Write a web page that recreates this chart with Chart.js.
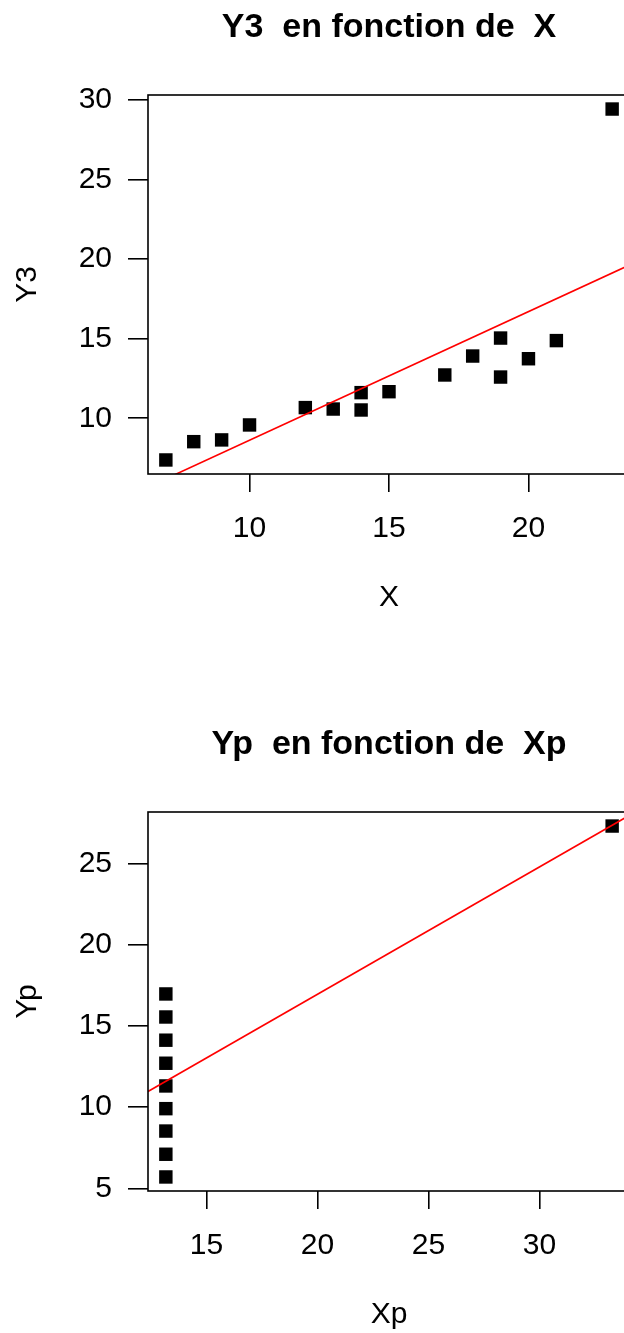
<!DOCTYPE html>
<html lang="fr">
<head>
<meta charset="utf-8">
<title>Y3 en fonction de X — Yp en fonction de Xp</title>
<script src="https://cdn.jsdelivr.net/npm/chart.js@4.4.1/dist/chart.umd.min.js"></script>
<style>
  html, body { margin: 0; padding: 0; background: #fff; overflow: hidden; }
  #page { position: relative; width: 624px; height: 1333px; overflow: hidden; background: #fff; }
  #chartTop { position: absolute; left: 0; top: 0; }
  #chartBottom { position: absolute; left: 0; top: 717px; }
</style>
</head>
<body>
<div id="page">
  <canvas id="chartTop" width="660" height="666"></canvas>
  <canvas id="chartBottom" width="660" height="666"></canvas>
</div>
<script>
// ---- Panel 1 : Y3 en fonction de X ----
const xTop = [7, 8, 9, 10, 12, 13, 14, 14, 15, 17, 18, 19, 19, 20, 21, 23];
const y3Top = [7.38, 8.53, 8.64, 9.58, 10.67, 10.58, 11.61, 10.52, 11.67, 12.72, 13.91, 15.04, 12.59, 13.74, 14.88, 29.43];
const fitTop = { intercept: 0.54, slope: 0.808 };
const xTicksTop = [10, 15, 20];
const yTicksTop = [10, 15, 20, 25, 30];

// ---- Panel 2 : Yp en fonction de Xp ----
const xpBottom = [13.17, 13.17, 13.17, 13.17, 13.17, 13.17, 13.17, 13.17, 13.17, 33.27];
const ypBottom = [5.70, 7.10, 8.53, 9.91, 11.31, 12.71, 14.13, 15.56, 16.98, 27.33];
const fitBottom = { intercept: 1.26, slope: 0.785 };
const xTicksBottom = [15, 20, 25, 30];
const yTicksBottom = [5, 10, 15, 20, 25];

const FONT = "'Liberation Sans', Arial, Helvetica, sans-serif";

// Axis limits: data range widened by 4% on each side
function axisRange(values) {
  const lo = Math.min(...values), hi = Math.max(...values);
  const d = (hi - lo) * 0.04;
  return [lo - d, hi + d];
}

// Box around the plotting region
const framePlugin = {
  id: 'frame',
  afterDatasetsDraw(chart) {
    const { ctx, chartArea: a } = chart;
    ctx.save();
    ctx.strokeStyle = '#000';
    ctx.lineWidth = 1.6;
    ctx.strokeRect(a.left, a.top, a.right - a.left, a.bottom - a.top);
    ctx.restore();
  }
};

function makeScatter(canvasId, cfg) {
  const [xmin, xmax] = axisRange(cfg.x);
  const [ymin, ymax] = axisRange(cfg.y);
  const points = cfg.x.map((v, i) => ({ x: v, y: cfg.y[i] }));
  const fitLine = [xmin, xmax].map(v => ({ x: v, y: cfg.fit.intercept + cfg.fit.slope * v }));

  const tickFont = { family: FONT, size: 30, lineHeight: 1.2 };
  const labelFont = { family: FONT, size: 30, lineHeight: 1.2 };
  return new Chart(document.getElementById(canvasId), {
    type: 'scatter',
    data: {
      datasets: [
        {
          data: points,
          pointStyle: 'rect',
          pointRadius: 9.5,
          pointHoverRadius: 9.5,
          backgroundColor: '#000',
          borderColor: '#000',
          borderWidth: 0,
          showLine: false,
          order: 2
        },
        {
          data: fitLine,
          showLine: true,
          pointRadius: 0,
          borderColor: '#ff0000',
          borderWidth: 1.6,
          fill: false,
          order: 1
        }
      ]
    },
    options: {
      responsive: false,
      devicePixelRatio: 1,
      animation: false,
      events: [],
      layout: { padding: { left: 0, right: 30, top: 0, bottom: 0 } },
      plugins: {
        legend: { display: false },
        tooltip: { enabled: false },
        title: {
          display: true,
          text: cfg.title,
          fullSize: false,
          color: '#000',
          font: { family: FONT, size: 34, weight: 'bold', lineHeight: 1.2 },
          padding: { top: 7.6, bottom: 46.6 }
        }
      },
      scales: {
        x: {
          type: 'linear',
          position: 'bottom',
          min: xmin,
          max: xmax,
          afterFit: s => { s.height = 192; },
          afterBuildTicks: s => { s.ticks = cfg.xTicks.map(v => ({ value: v })); },
          border: { display: false },
          grid: {
            display: true,
            drawOnChartArea: false,
            drawTicks: true,
            tickLength: 18,
            color: '#000',
            lineWidth: 1.6
          },
          ticks: {
            color: '#000',
            font: tickFont,
            padding: 18.5,
            maxRotation: 0,
            autoSkip: false,
            callback: v => String(v)
          },
          title: {
            display: true,
            text: cfg.xLabel,
            color: '#000',
            font: labelFont,
            padding: { top: 0, bottom: 50 }
          }
        },
        y: {
          type: 'linear',
          position: 'left',
          min: ymin,
          max: ymax,
          afterFit: s => { s.width = 148; },
          afterBuildTicks: s => { s.ticks = cfg.yTicks.map(v => ({ value: v })); },
          border: { display: false },
          grid: {
            display: true,
            drawOnChartArea: false,
            drawTicks: true,
            tickLength: 20,
            color: '#000',
            lineWidth: 1.6
          },
          ticks: {
            color: '#000',
            font: tickFont,
            padding: 16,
            autoSkip: false,
            callback: v => String(v)
          },
          title: {
            display: true,
            text: cfg.yLabel,
            color: '#000',
            font: labelFont,
            padding: { top: 9.5, bottom: 0 }
          }
        }
      }
    },
    plugins: [framePlugin]
  });
}

makeScatter('chartTop', {
  x: xTop, y: y3Top, fit: fitTop,
  xTicks: xTicksTop, yTicks: yTicksTop,
  title: 'Y3  en fonction de  X', xLabel: 'X', yLabel: 'Y3'
});

makeScatter('chartBottom', {
  x: xpBottom, y: ypBottom, fit: fitBottom,
  xTicks: xTicksBottom, yTicks: yTicksBottom,
  title: 'Yp  en fonction de  Xp', xLabel: 'Xp', yLabel: 'Yp'
});
</script>
</body>
</html>
